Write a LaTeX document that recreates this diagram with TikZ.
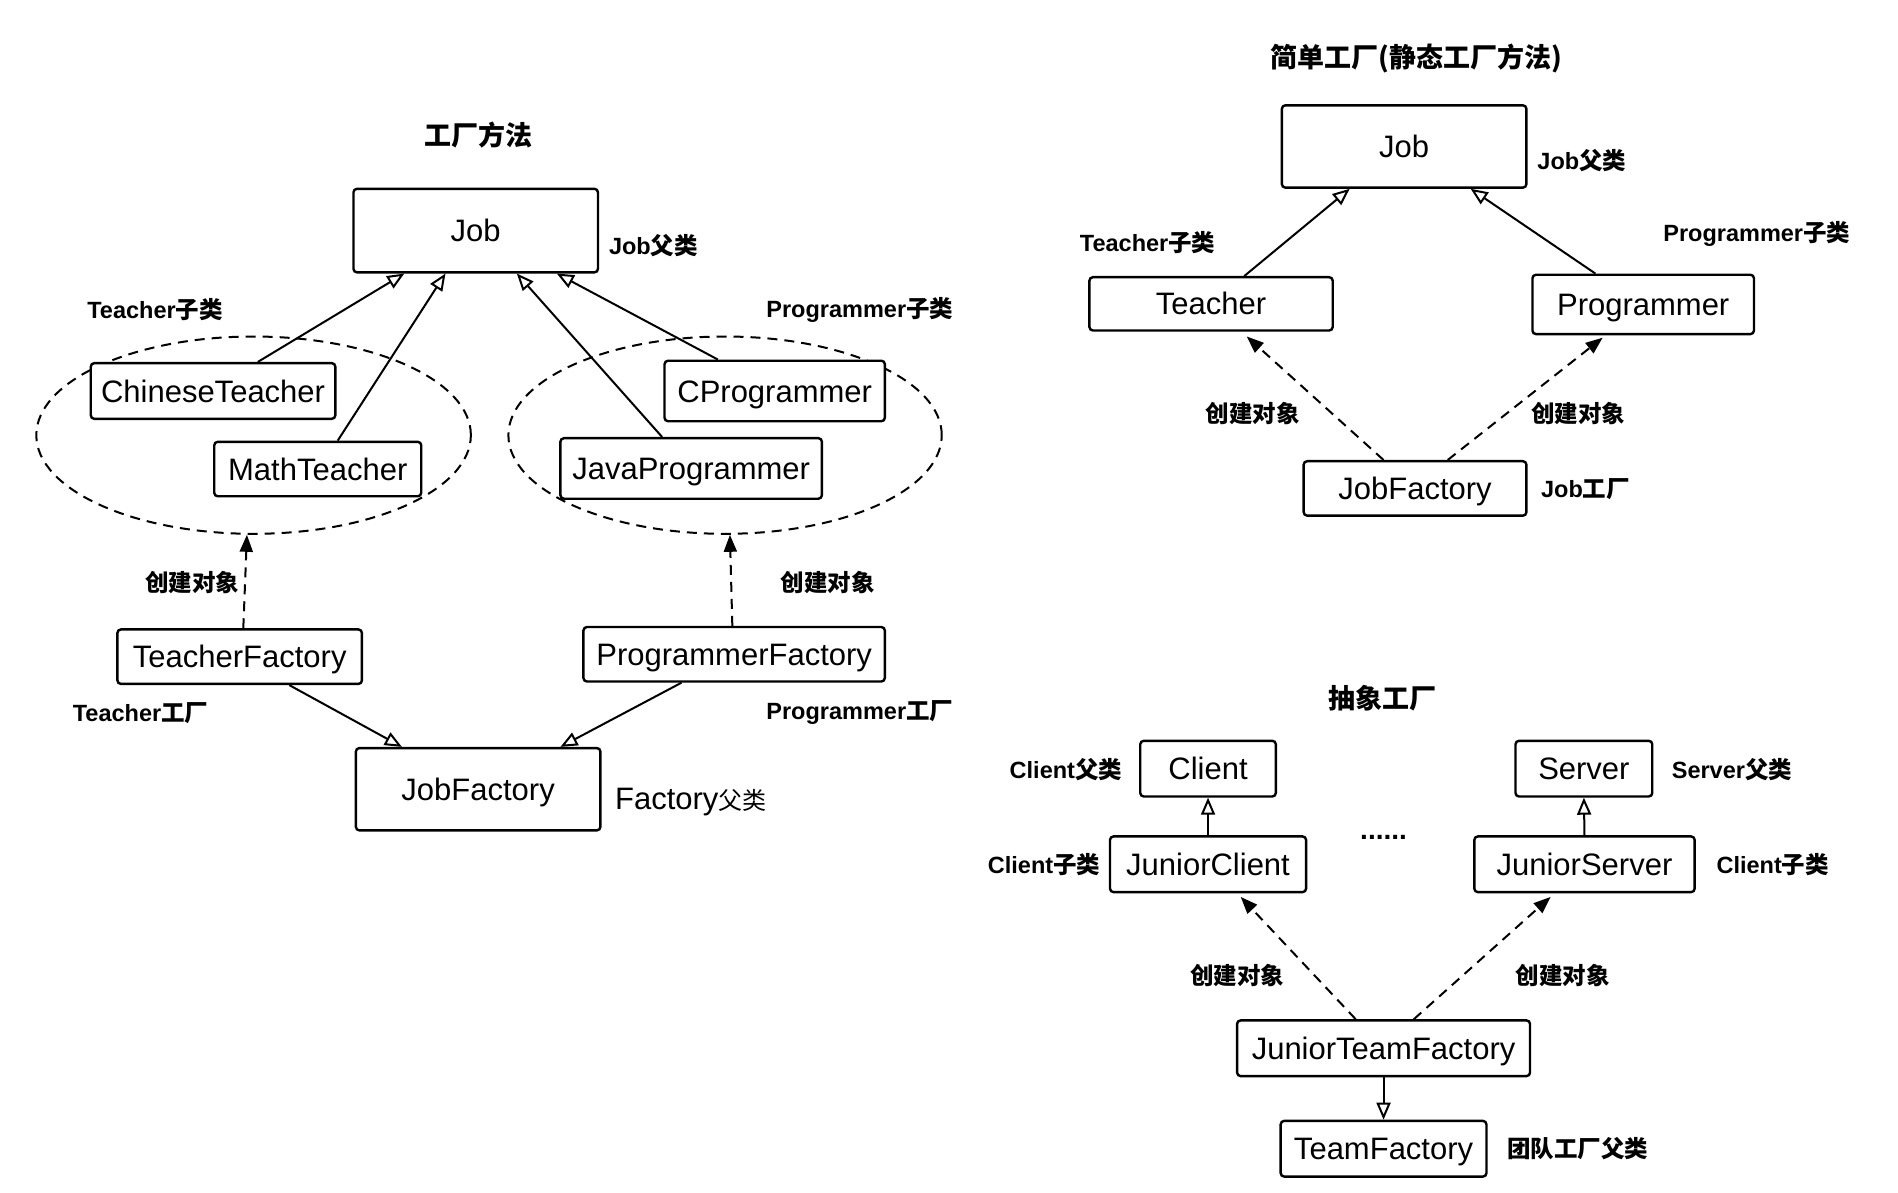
\documentclass[tikz,border=0pt]{standalone}
\usepackage{fontspec}
\setmainfont{Liberation Sans}
\newfontfamily\cjk{Noto Sans CJK SC}
\usetikzlibrary{arrows.meta,shapes.geometric,calc}
\def\u{1.2105pt}
\newcommand\zh[1]{{\cjk #1}}
\tikzset{
 box/.style={draw, line width=2.4pt, rounded corners=3.5pt, fill=white, inner sep=0pt, text height=22.3pt, text depth=0pt, font=\fontsize{31}{36}\selectfont},
 sz/.style 2 args={minimum width=#1*\u, minimum height=#2*\u},
 lbl/.style={anchor=west, inner sep=0pt, font=\fontsize{23.5}{28}\selectfont\bfseries},
 ttl/.style={inner sep=0pt, font=\fontsize{27}{32}\selectfont\bfseries\cjk},
 inh/.style={line width=2pt, -{Triangle[open, length=17pt, width=14pt, line width=2pt]}},
 crt/.style={line width=2pt, dash pattern=on 10pt off 7pt, -{Triangle[length=17pt, width=13pt]}},
 grp/.style={draw, ellipse, dash pattern=on 10pt off 7pt, line width=2pt, inner sep=0pt},
}
\begin{document}
\begin{tikzpicture}[x=1.2105pt, y=-1.2105pt]
\useasboundingbox[fill=white] (0,0) rectangle (1568,985);

% ---------- 工厂方法 ----------
\node[ttl] (t1) at (395,112) {工厂方法};
\node[grp, sz={359}{163}] (ellL) at (209.5,359.5) {};
\node[grp, sz={358}{163}] (ellR) at (599,359.5) {};

\node[box, sz={202}{69}] (J1) at (393,190.5) {Job};
\node[box, sz={202}{46}] (ct) at (176,323) {ChineseTeacher};
\node[box, sz={171}{45}] (mt) at (262.5,387.5) {MathTeacher};
\node[box, sz={182}{50}] (cp) at (640,323) {CProgrammer};
\node[box, sz={216}{50}] (jp) at (571,387) {JavaProgrammer};
\node[box, sz={202}{45}] (tf) at (198,542.5) {TeacherFactory};
\node[box, sz={249}{45}] (pf) at (606.5,540.5) {ProgrammerFactory};
\node[box, sz={202}{68}] (jf) at (395,652) {JobFactory};

\node[lbl] (l1) at (503,203) {Job\zh{父类}};
\node[lbl] (l2) at (72,256) {Teacher\zh{子类}};
\node[lbl] (l3) at (633,256) {Programmer\zh{子类}};
\node[lbl] (l4) at (120,481) {\zh{创建对象}};
\node[lbl] (l5) at (645,481) {\zh{创建对象}};
\node[lbl] (l6) at (60,589) {Teacher\zh{工厂}};
\node[lbl] (l7) at (633,589) {Programmer\zh{工厂}};
\node[anchor=west, inner sep=0pt, font=\fontsize{31}{36}\selectfont] (l8) at (508,663) {Factory{\fontsize{24}{28}\selectfont\cjk 父类}};

\draw[inh] ([xshift=37*\u]ct.north) -- ([xshift=-59*\u]J1.south);
\draw[inh] ([xshift=16.5*\u]mt.north) -- ([xshift=-25*\u]J1.south);
\draw[inh] ([xshift=-24*\u]jp.north) -- ([xshift=34*\u]J1.south);
\draw[inh] ([xshift=-47*\u]cp.north) -- ([xshift=67*\u]J1.south);
\draw[crt] ([xshift=3*\u]tf.north) -- ([xshift=-5.5*\u]ellL.south);
\draw[crt] ([xshift=-1.5*\u]pf.north) -- ([xshift=4*\u]ellR.south);
\draw[inh] ([xshift=41*\u]tf.south) -- ([xshift=-63*\u]jf.north);
\draw[inh] ([xshift=-43.5*\u]pf.south) -- ([xshift=68*\u]jf.north);

% ---------- 简单工厂 ----------
\node[ttl] (t2) at (1170,48) {简单工厂(静态工厂方法)};
\node[box, sz={202}{68}] (J2) at (1160,121) {Job};
\node[box, sz={201}{44}] (te) at (1000.5,251) {Teacher};
\node[box, sz={183}{49}] (pr) at (1357.5,251.5) {Programmer};
\node[box, sz={184}{45}] (jf2) at (1169,403.5) {JobFactory};

\node[lbl] (m1) at (1270,133) {Job\zh{父类}};
\node[lbl] (m2) at (892,200) {Teacher\zh{子类}};
\node[lbl] (m3) at (1374,193) {Programmer\zh{子类}};
\node[lbl] (m4) at (996,342) {\zh{创建对象}};
\node[lbl] (m5) at (1265,342) {\zh{创建对象}};
\node[lbl] (m6) at (1273,404) {Job\zh{工厂}};

\draw[inh] ([xshift=27.5*\u]te.north) -- ([xshift=-45*\u]J2.south);
\draw[inh] ([xshift=-39.5*\u]pr.north) -- ([xshift=55*\u]J2.south);
\draw[crt] ([xshift=-26*\u]jf2.north) -- ([xshift=29.5*\u,yshift=-4*\u]te.south);
\draw[crt] ([xshift=27*\u]jf2.north) -- ([xshift=-33.5*\u,yshift=-2*\u]pr.south);

% ---------- 抽象工厂 ----------
\node[ttl] (t3) at (1142,577) {抽象工厂};
\node[box, sz={112}{46}] (cl) at (998,635) {Client};
\node[box, sz={113}{46}] (sv) at (1308.5,635) {Server};
\node[box, sz={162}{46}] (jc) at (998,714) {JuniorClient};
\node[box, sz={182}{46}] (js) at (1309,714) {JuniorServer};
\node[box, sz={242}{46}] (jtf) at (1143,866) {JuniorTeamFactory};
\node[box, sz={170}{46}] (tmf) at (1143,949) {TeamFactory};

\node[lbl] (n1) at (834,636) {Client\zh{父类}};
\node[lbl] (n2) at (1381,636) {Server\zh{父类}};
\node[lbl] (n3) at (816,714) {Client\zh{子类}};
\node[lbl] (n4) at (1418,714) {Client\zh{子类}};
\node[lbl, anchor=center, font=\fontsize{28}{32}\selectfont\bfseries] (n5) at (1143,692) {......};
\node[lbl] (n6) at (983,806) {\zh{创建对象}};
\node[lbl] (n7) at (1252,806) {\zh{创建对象}};
\node[lbl] (n8) at (1245,949) {\zh{团队工厂父类}};

\draw[inh] (jc.north) -- (cl.south);
\draw[inh] (js.north) -- (sv.south);
\draw[crt] ([xshift=-23*\u]jtf.north) -- ([xshift=27*\u,yshift=-3*\u]jc.south);
\draw[crt] ([xshift=25*\u]jtf.north) -- ([xshift=-28*\u,yshift=-3*\u]js.south);
\draw[inh] (jtf.south) -- (tmf.north);
\end{tikzpicture}
\end{document}
